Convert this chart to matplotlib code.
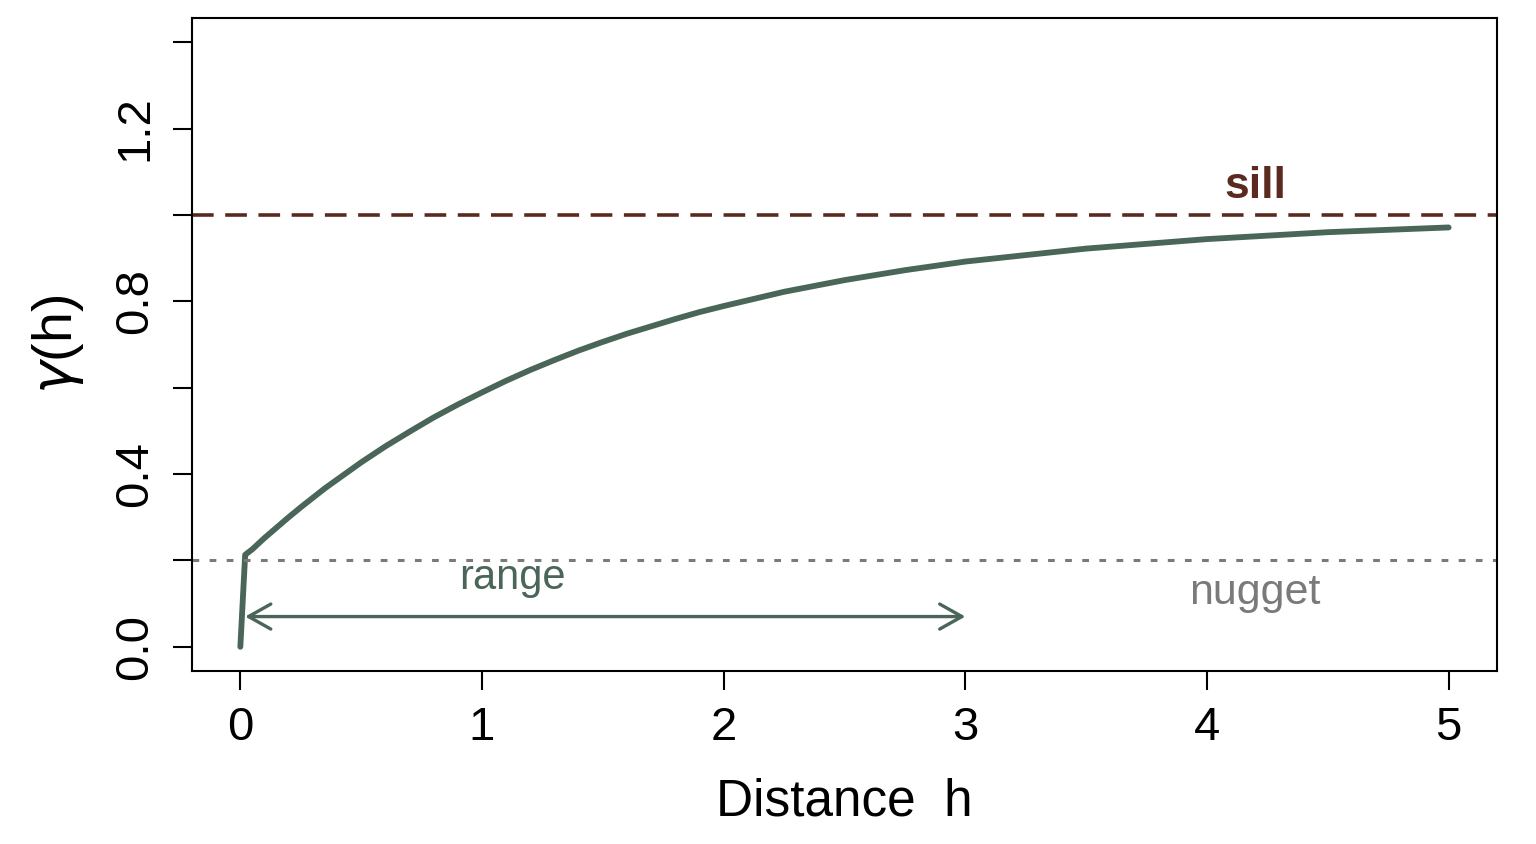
import matplotlib
matplotlib.use("Agg")
import matplotlib.pyplot as plt

# variogram curve
dist = [0.0, 0.02, 0.05, 0.1, 0.15, 0.2, 0.25, 0.3, 0.35, 0.4, 0.45, 0.5, 0.6,
        0.7, 0.8, 0.9, 1.0, 1.1, 1.2, 1.3, 1.4, 1.5, 1.6, 1.7, 1.8, 1.9, 2.0,
        2.25, 2.5, 2.75, 3.0, 3.5, 4.0, 4.5, 5.0]
gamma = [0.0, 0.213, 0.226, 0.252, 0.276, 0.300, 0.323, 0.345, 0.367, 0.387,
         0.407, 0.427, 0.464, 0.498, 0.531, 0.561, 0.589, 0.616, 0.641, 0.664,
         0.686, 0.706, 0.725, 0.742, 0.759, 0.775, 0.789, 0.822, 0.849, 0.872,
         0.892, 0.922, 0.944, 0.960, 0.971]

sill = 1.0
nugget = 0.2
range_start = 0.02
range_end = 3.0
range_y = 0.07

x_ticks = [0, 1, 2, 3, 4, 5]
y_ticks = [0.0, 0.2, 0.4, 0.6, 0.8, 1.0, 1.2, 1.4]
y_labels = ["0.0", "", "0.4", "", "0.8", "", "1.2", ""]

green = "#4a6658"
brown = "#5b2a1f"
grey = "#7a7a7a"

plt.rcParams["font.family"] = ["Liberation Sans", "DejaVu Sans"]
plt.rcParams["mathtext.fontset"] = "dejavusans"

fig = plt.figure(figsize=(15.36, 8.44), dpi=100)
ax = fig.add_axes([0.125, 0.205, 0.8496, 0.7737])

ax.plot(dist, gamma, color=green, lw=4.2, solid_capstyle="round", solid_joinstyle="round")
ax.axhline(sill, color=brown, lw=2.6, dashes=(6, 3.2))
ax.axhline(nugget, color=grey, lw=2.2, dashes=(2.2, 3.4))

ax.annotate("", xy=(range_end, range_y), xytext=(range_start, range_y),
            arrowprops=dict(arrowstyle="<->,head_length=0.8,head_width=0.45",
                            color=green, lw=2.4, shrinkA=0, shrinkB=0,
                            mutation_scale=20))

ax.text(1.125, 0.16, "range", color=green, fontsize=30, ha="center", va="center")
ax.text(4.2, 0.125, "nugget", color=grey, fontsize=31, ha="center", va="center")
ax.text(4.2, 1.065, "sill", color=brown, fontsize=32, fontweight="bold",
        ha="center", va="center")

ax.set_xlim(-0.2, 5.2)
ax.set_ylim(-0.056, 1.456)
ax.set_xticks(x_ticks)
ax.set_xticklabels([str(v) for v in x_ticks])
ax.set_yticks(y_ticks)
ax.set_yticklabels(y_labels, rotation=90, va="center")

ax.tick_params(axis="both", labelsize=34, length=14, width=1.5, pad=11, color="black")
for s in ax.spines.values():
    s.set_linewidth(1.5)

ax.set_xlabel("Distance  h", fontsize=37, labelpad=20)
ax.set_ylabel(r"$\gamma$(h)", fontsize=40, labelpad=20)

fig.savefig("out.png", dpi=100)
